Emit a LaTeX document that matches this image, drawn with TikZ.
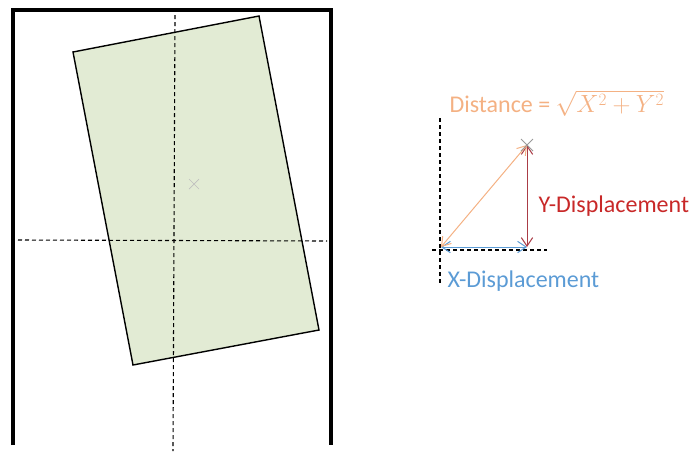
\documentclass[tikz,border=0pt]{standalone}
\usepackage{fontspec}
\setmainfont{Carlito}
\usepackage{amsmath}
\usepackage{xcolor}
\usetikzlibrary{arrows.meta}
\definecolor{boxfill}{RGB}{226,235,212}
\definecolor{distcol}{RGB}{244,177,131}
\definecolor{ycol}{RGB}{200,40,40}
\definecolor{ylinecol}{RGB}{170,60,70}
\definecolor{xcol}{RGB}{91,155,213}
\tikzset{axis/.style={dash pattern=on 4pt off 3pt,line width=1.1pt},
  dim/.style={{Straight Barb[length=3mm,width=4mm]}-{Straight Barb[length=3mm,width=4mm]},line width=1pt}}

\begin{document}
\begin{tikzpicture}[x=1pt,y=-1pt,font=\fontsize{24}{28}\selectfont]
  \useasboundingbox (0,0) rectangle (694,451);
  % left view
  \draw[line width=4.5pt] (13,445) -- (13,10) -- (331,10) -- (331,445);
  \draw[fill=boxfill,line width=1.4pt] (73,52) -- (259,16) -- (319,330) -- (133,365) -- cycle;
  \draw[axis] (175,15) -- (173,451);
  \draw[axis] (18,240) -- (327,241);
  \draw[black!25,line width=0.7pt] (189,179) -- (199,189) (189,189) -- (199,179);
  % right view
  \coordinate (o) at (441,247);
  \coordinate (p) at (527,145);
  \coordinate (q) at (527,247);
  \draw[axis] (440,118) -- (440,283);
  \draw[axis] (432,250) -- (547,250);
  \draw[dim,xcol] (o) -- (q);
  \draw[dim,ylinecol] (p) -- (q);
  \draw[dim,distcol] (o) -- (p);
  \draw[black!40,line width=0.8pt] (p) +(-6,-6) -- +(6,6) (p) +(-6,6) -- +(6,-6);
  \node[anchor=west,text=distcol] (dist) at (446,103) {Distance = $\sqrt{X^2+Y^2}$};
  \node[anchor=west,text=ycol] (ylab) at (535,206) {Y-Displacement};
  \node[anchor=west,text=xcol] (xlab) at (444,281) {X-Displacement};
\end{tikzpicture}
\end{document}
